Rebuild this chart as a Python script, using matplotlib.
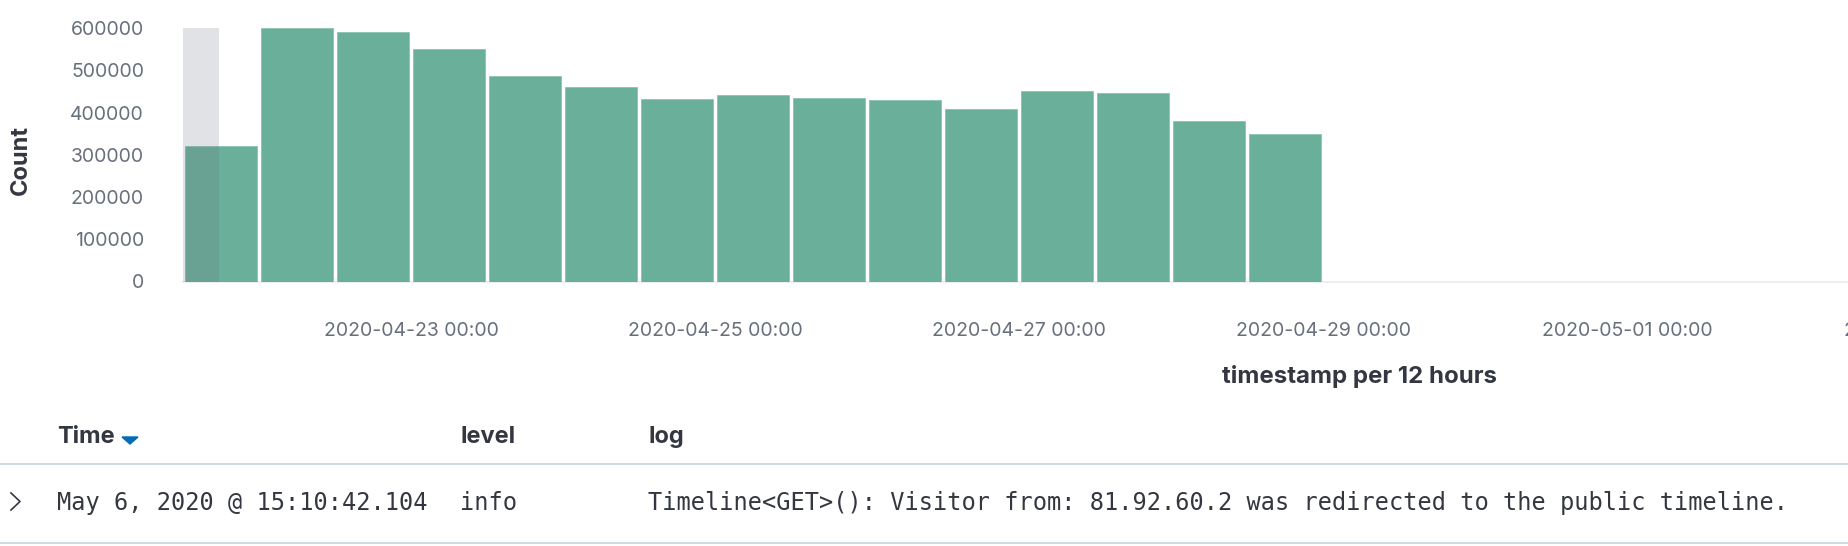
import matplotlib
matplotlib.use("Agg")
import matplotlib.pyplot as plt
import matplotlib.dates as mdates
from matplotlib.lines import Line2D
from matplotlib.patches import Polygon
from datetime import datetime, timedelta

# ---- data ----
bucket_starts = ["2020-04-21 12:00", "2020-04-22 00:00", "2020-04-22 12:00", "2020-04-23 00:00",
                 "2020-04-23 12:00", "2020-04-24 00:00", "2020-04-24 12:00", "2020-04-25 00:00",
                 "2020-04-25 12:00", "2020-04-26 00:00", "2020-04-26 12:00", "2020-04-27 00:00",
                 "2020-04-27 12:00", "2020-04-28 00:00", "2020-04-28 12:00"]
counts = [321000, 600000, 590000, 551000, 486000, 460000, 433000, 441000,
          434000, 429000, 408000, 450000, 445000, 381000, 349000]
y_ticks = [0, 100000, 200000, 300000, 400000, 500000, 600000]
x_tick_dates = ["2020-04-23 00:00", "2020-04-25 00:00", "2020-04-27 00:00", "2020-04-29 00:00",
                "2020-05-01 00:00", "2020-05-03 00:00", "2020-05-05 00:00"]
domain = ["2020-04-21 12:00", "2020-05-06 23:40"]
partial_end = "2020-04-21 17:40"
table_headers = ["Time", "level", "log"]
row = ["May 6, 2020 @ 15:10:42.104", "info",
       "Timeline<GET>(): Visitor from: 81.92.60.2 was redirected to the public timeline."]

fmt = "%Y-%m-%d %H:%M"
to_dt = lambda s: datetime.strptime(s, fmt)

W, H = 1848, 546
fig = plt.figure(figsize=(W / 100, H / 100), dpi=100)
fig.patch.set_facecolor("white")

def fx(x):
    return x / W

def fy(y):
    return 1 - y / H

ax = fig.add_axes([183 / W, (H - 281.5) / H, (2537 - 183) / W, 253.5 / H])

bar_color = "#6aaf99"
grey = "#69707d"
dark = "#343741"

starts = [to_dt(s) for s in bucket_starts]
width = timedelta(hours=12)
centers = [mdates.date2num(s + width / 2) for s in starts]
ax.bar(centers, counts, width=(12 / 24) * (72.3 / 76), color=bar_color,
       edgecolor="#8cc3b0", linewidth=0.6, zorder=2)

ax.axvspan(mdates.date2num(to_dt(domain[0])), mdates.date2num(to_dt(partial_end)),
           ymin=0, ymax=1, color=grey, alpha=0.2, lw=0, zorder=3)

ax.set_xlim(mdates.date2num(to_dt(domain[0])), mdates.date2num(to_dt(domain[1])))
ax.set_ylim(0, 600000)
ax.set_yticks(y_ticks)
ax.set_yticklabels([str(v) for v in y_ticks])
ax.set_xticks([mdates.date2num(to_dt(s)) for s in x_tick_dates])
ax.xaxis.set_major_formatter(mdates.DateFormatter(fmt))

for s in ["top", "right", "left"]:
    ax.spines[s].set_visible(False)
ax.spines["bottom"].set_color("#eceef3")
ax.spines["bottom"].set_linewidth(1.5)
ax.spines["bottom"].set_zorder(1)

ax.tick_params(axis="both", length=0, labelsize=14, labelcolor=grey)
ax.tick_params(axis="y", pad=28)
ax.tick_params(axis="x", pad=29.5)
for lab in ax.get_xticklabels() + ax.get_yticklabels():
    lab.set_family("Inter")

ax.set_ylabel("Count", family="Inter", fontweight="bold", fontsize=17, color=dark)
ax.yaxis.set_label_coords((32 - 183) / (2537 - 183), 0.48)
ax.set_xlabel("timestamp per 12 hours", family="Inter", fontweight="bold", fontsize=17.3,
              color=dark, labelpad=18)

# ---- table below ----
hx = [57, 460, 648]
for x, t in zip(hx, table_headers):
    fig.text(fx(x), fy(437), t, family="Inter", fontweight="bold", fontsize=17,
             color=dark, va="center", ha="left")

tri = Polygon([[fx(122), fy(437)], [fx(138), fy(437)], [fx(130), fy(444)]],
              closed=True, transform=fig.transFigure, color="#006bb8")
fig.patches.append(tri)

for yy in [464, 543]:
    fig.add_artist(Line2D([0, 1], [fy(yy), fy(yy)], transform=fig.transFigure,
                          color="#d3dae6", lw=1.5))

fig.add_artist(Line2D([fx(11), fx(20), fx(11)], [fy(493), fy(501.5), fy(510)],
                      transform=fig.transFigure, color=dark, lw=1.2))

for x, t in zip(hx, row):
    fig.text(fx(x), fy(503), t, family="DejaVu Sans Mono", fontsize=17,
             color=dark, va="center", ha="left")

fig.savefig("out.png", dpi=100)
